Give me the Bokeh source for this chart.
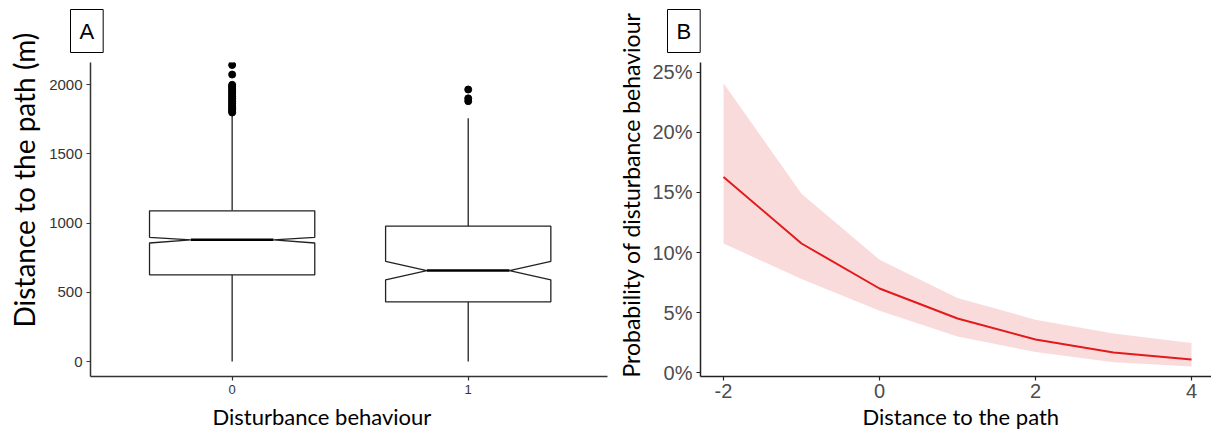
from bokeh.plotting import figure
from bokeh.layouts import row
from bokeh.models import Range1d, FixedTicker, NumeralTickFormatter, Title
from bokeh.embed import file_html
from bokeh.resources import INLINE

# ---------------- Panel A data (boxplot statistics, metres) ----------------
categories = ["0", "1"]
q1 = [626, 431]
median = [879, 657]
q3 = [1088, 977]
notch_low = [856, 590]
notch_high = [897, 724]
whisker_low = [0, 0]
whisker_high = [1780, 1757]
outliers_0 = [1798, 1808, 1818, 1828, 1840, 1852, 1864, 1876, 1888, 1900,
              1912, 1925, 1938, 1950, 1962, 1975, 1988, 1998, 2072, 2141]
outliers_1 = [1880, 1900, 1964]

# ---------------- Panel B data (predicted probability) ----------------
dist = [-2, -1, 0, 1, 2, 3, 4]
prob = [0.163, 0.1075, 0.070, 0.045, 0.0275, 0.0167, 0.0108]
prob_low = [0.1075, 0.078, 0.0515, 0.030, 0.017, 0.0085, 0.005]
prob_high = [0.241, 0.149, 0.094, 0.062, 0.044, 0.0325, 0.0245]

TICK_FONT = "Liberation Sans"
TITLE_FONT = "Lato"


def style(p, tick_size, tick_color, line_color):
    p.xgrid.visible = False
    p.ygrid.visible = False
    p.outline_line_color = None
    p.background_fill_color = "white"
    p.border_fill_color = "white"
    for ax in (p.xaxis[0], p.yaxis[0]):
        ax.axis_line_color = line_color
        ax.axis_line_width = 1.5
        ax.major_tick_line_color = line_color
        ax.major_tick_line_width = 1.2
        ax.major_tick_out = 4
        ax.major_tick_in = 0
        ax.minor_tick_line_color = None
        ax.major_label_text_font = TICK_FONT
        ax.major_label_text_font_size = tick_size
        ax.major_label_text_color = tick_color
        ax.major_label_standoff = 4


def tag(text, offset, standoff):
    return Title(text=text, align="left", offset=offset, vertical_align="top",
                 standoff=standoff, text_font=TICK_FONT, text_font_size="22px",
                 text_font_style="normal", text_color="black",
                 border_line_color="black", border_line_width=1,
                 background_fill_color="white", padding=9)


def axis_title(text, size, offset, standoff, valign, line_height=1.2):
    return Title(text=text, align="left", offset=offset, vertical_align=valign,
                 standoff=standoff, text_font=TITLE_FONT, text_font_size=size,
                 text_font_style="normal", text_color="black",
                 text_line_height=line_height)


# ---------------- Panel A ----------------
pA = figure(width=610, height=436, x_range=Range1d(0.4, 2.59),
            y_range=Range1d(-108, 2159), output_backend="svg",
            toolbar_location=None, min_border_left=90, min_border_right=3,
            min_border_top=62, min_border_bottom=60)
style(pA, "15px", "#333333", "#333333")

pos = [i + 1 for i in range(len(categories))]
bw, nw = 0.35, 0.175
xs, ys = [], []
for i, x in enumerate(pos):
    xs.append([x - bw, x - bw, x - nw, x - bw, x - bw,
               x + bw, x + bw, x + nw, x + bw, x + bw])
    ys.append([q1[i], notch_low[i], median[i], notch_high[i], q3[i],
               q3[i], notch_high[i], median[i], notch_low[i], q1[i]])

pA.segment(x0=pos, y0=q3, x1=pos, y1=whisker_high, line_color="#222222", line_width=1.3)
pA.segment(x0=pos, y0=q1, x1=pos, y1=whisker_low, line_color="#222222", line_width=1.3)
pA.patches(xs=xs, ys=ys, fill_color="white", line_color="#222222", line_width=1.3)
pA.segment(x0=[x - nw for x in pos], y0=median, x1=[x + nw for x in pos], y1=median,
           line_color="black", line_width=2.5)
pA.scatter(x=[pos[0]] * len(outliers_0), y=outliers_0, size=7, color="black")
pA.scatter(x=[pos[1]] * len(outliers_1), y=outliers_1, size=7, color="black")

pA.xaxis[0].ticker = FixedTicker(ticks=pos)
pA.xaxis[0].major_label_overrides = {p_: c for p_, c in zip(pos, categories)}
pA.xaxis[0].major_label_text_font_size = "13px"
pA.yaxis[0].ticker = FixedTicker(ticks=[0, 500, 1000, 1500, 2000])

pA.add_layout(tag("A", -20, 16), "above")
pA.add_layout(axis_title("Distance to the path (m)", "28px", 49, 9, "middle"), "left")
pA.add_layout(axis_title("Disturbance behaviour", "22px", 122, 8, "bottom", 0.8), "below")

# ---------------- Panel B ----------------
pB = figure(width=601, height=436, x_range=Range1d(-2.295, 4.256),
            y_range=Range1d(-0.00333, 0.25833), output_backend="svg",
            toolbar_location=None, min_border_left=90, min_border_right=0,
            min_border_top=62, min_border_bottom=60)
style(pB, "20px", "#4d4d4d", "#222222")

pB.varea(x=dist, y1=prob_low, y2=prob_high, fill_color="#fadbdc", fill_alpha=1.0)
pB.line(x=dist, y=prob, line_color="#e31a1c", line_width=2)

pB.xaxis[0].ticker = FixedTicker(ticks=[-2, 0, 2, 4])
pB.xaxis[0].major_label_overrides = {-2: "-2"}
pB.xaxis[0].major_label_standoff = 3
pB.yaxis[0].ticker = FixedTicker(ticks=[0, 0.05, 0.10, 0.15, 0.20, 0.25])
pB.yaxis[0].formatter = NumeralTickFormatter(format="0%")

pB.add_layout(tag("B", -33, 16), "above")
pB.add_layout(axis_title("Probability of disturbance behaviour", "23px", -1, 8, "middle"), "left")
pB.add_layout(axis_title("Distance to the path", "22px", 162, 0, "bottom", 0.8), "below")

layout = row(pA, pB)
open("out.html", "w").write(file_html(layout, INLINE))
